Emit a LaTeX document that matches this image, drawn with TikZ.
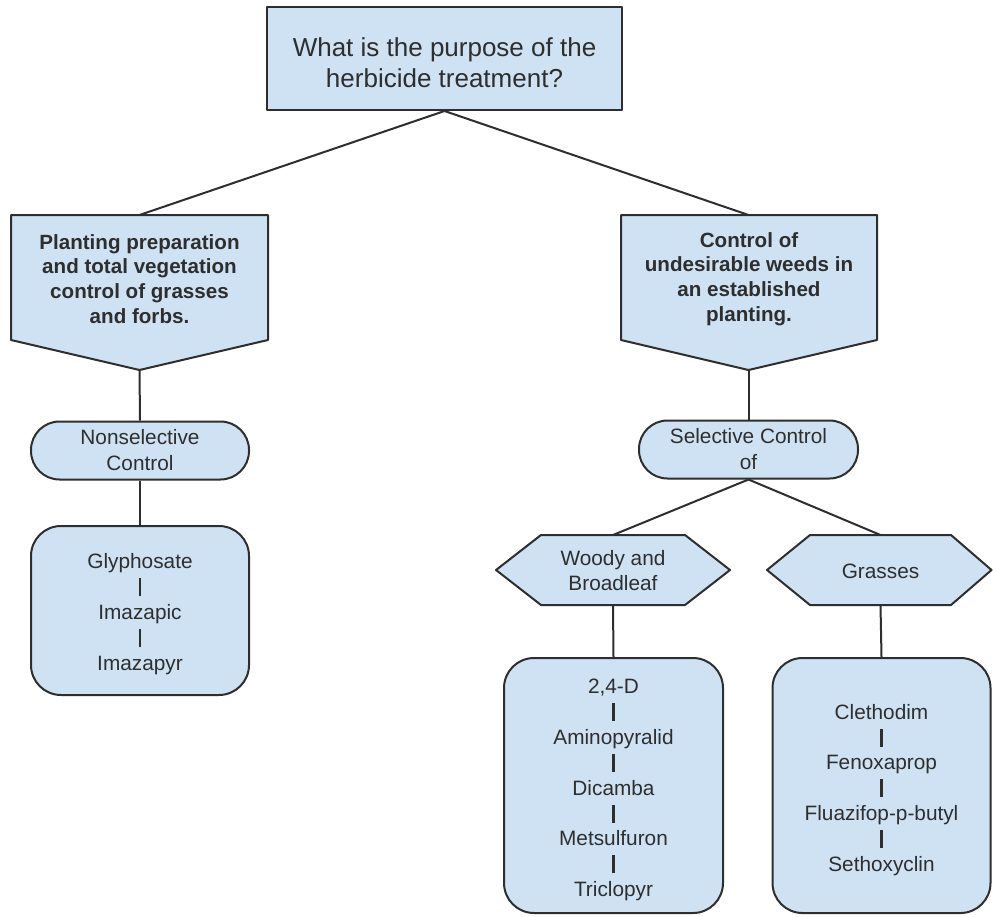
\documentclass[tikz,border=0pt]{standalone}
\usepackage{fontspec}
\setmainfont{Liberation Sans}
\definecolor{boxfill}{HTML}{CFE2F3}
\definecolor{ink}{HTML}{2E2E2E}
\newcommand{\sepbar}{\rule[-2pt]{2.2pt}{18pt}}
\begin{document}
\begin{tikzpicture}[x=1pt,y=-1pt,
  shp/.style={draw=ink,line width=2pt,fill=boxfill,line join=round},
  con/.style={draw=ink,line width=2pt},
  txt/.style={text=ink,align=center,inner sep=0pt,font=\fontsize{20.8}{26}\selectfont},
  btxt/.style={text=ink,align=center,inner sep=0pt,font=\fontsize{20.6}{24.8}\selectfont\bfseries},
  ltxt/.style={text=ink,align=center,inner sep=0pt,font=\fontsize{20.8}{25.4}\selectfont},
  rbox/.style={shp,rectangle,rounded corners=30pt,inner sep=0pt},
  pill/.style={shp,rectangle,rounded corners=28.5pt,inner sep=0pt,text=ink,align=center,font=\fontsize{20.8}{26}\selectfont,minimum height=58pt}
]
\useasboundingbox (0,0) rectangle (993,916);
\fill[white] (0,0) rectangle (993,916);

% coordinates of drawn shapes
\coordinate (lpT) at (139.5,215);
\coordinate (lpB) at (139.5,370);
\coordinate (rpT) at (748.5,215);
\coordinate (rpB) at (748.5,370);
\coordinate (wdT) at (613,535);
\coordinate (wdB) at (613,605);
\coordinate (grT) at (880.5,535);
\coordinate (grB) at (880.5,605);

% boxes
\node[shp,rectangle,minimum width=355pt,minimum height=103pt,inner sep=0pt] (q) at (444.5,58.5) {};
\node[text=ink,align=center,inner sep=0pt,font=\fontsize{26}{31}\selectfont] (qt) at (444.5,63) {What is the purpose of the\\herbicide treatment?};
\node[pill,minimum width=218pt] (ns) at (140,450.5) {Nonselective\\Control};
\node[rbox,minimum width=218pt,minimum height=169pt] (gl) at (140,610.5) {};
\node[ltxt] (glt) at (140,614) {Glyphosate\\\sepbar\\Imazapic\\\sepbar\\Imazapyr};
\node[pill,minimum width=219pt] (sel) at (748.5,449.5) {Selective Control\\of};
\node[rbox,minimum width=219pt,minimum height=255pt] (wl) at (613.5,785.5) {};
\node[ltxt] (wlt) at (613.5,790) {2,4-D\\\sepbar\\Aminopyralid\\\sepbar\\Dicamba\\\sepbar\\Metsulfuron\\\sepbar\\Triclopyr};
\node[rbox,minimum width=218pt,minimum height=255pt] (gll) at (881.5,785.5) {};
\node[ltxt] (gllt) at (881.5,790) {Clethodim\\\sepbar\\Fenoxaprop\\\sepbar\\Fluazifop-p-butyl\\\sepbar\\Sethoxyclin};

% connectors
\draw[con] (q.south) -- (lpT);
\draw[con] (q.south) -- (rpT);
\draw[con] (lpB) -- (ns.north);
\draw[con] (ns.south) -- (gl.north);
\draw[con] (rpB) -- (sel.north);
\draw[con] (sel.south) -- (wdT);
\draw[con] (sel.south) -- (grT);
\draw[con] (wdB) -- (wl.north);
\draw[con] (grB) -- (gll.north);

% pentagons
\draw[shp] (11,215) -- (268,215) -- (268,340) -- (lpB) -- (11,340) -- cycle;
\node[btxt] (lp) at (139.5,279) {Planting preparation\\and total vegetation\\control of grasses\\and forbs.};
\draw[shp] (621,215) -- (877,215) -- (877,340) -- (rpB) -- (621,340) -- cycle;
\node[btxt] (rp) at (749,279) {Control of\\undesirable weeds in\\an established\\planting.};

% hexagons
\draw[shp] (496,570) -- (541,535) -- (685,535) -- (730,570) -- (685,605) -- (541,605) -- cycle;
\node[txt,font=\fontsize{20.8}{25}\selectfont] (wd) at (613,571) {Woody and\\Broadleaf};
\draw[shp] (767,570) -- (810,535) -- (951,535) -- (991.5,570) -- (951,605) -- (810,605) -- cycle;
\node[txt] (gr) at (880.5,571) {Grasses};
\end{tikzpicture}
\end{document}
